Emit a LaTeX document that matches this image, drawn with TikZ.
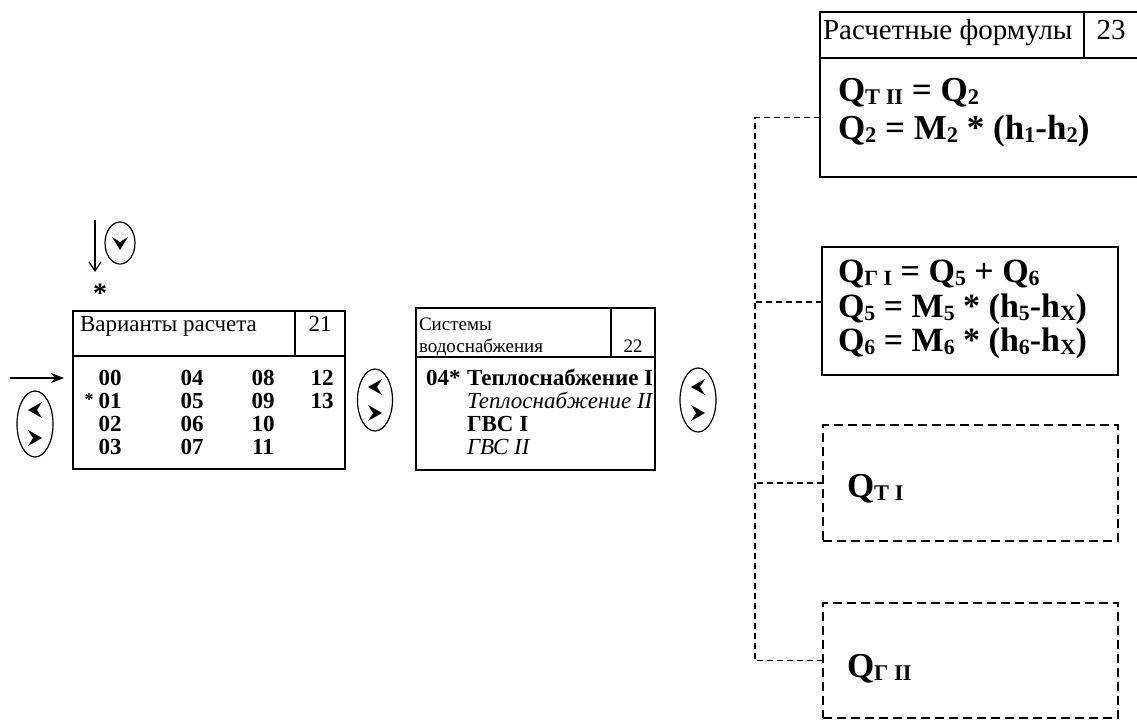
\documentclass[tikz,border=0pt]{standalone}
\usepackage{fontspec}
\setmainfont{Liberation Serif}
\usetikzlibrary{arrows.meta, positioning, shapes.geometric, calc}

\newcommand{\fsz}[2]{\fontsize{#1}{#2}\selectfont}
\newcommand{\sub}[1]{\raisebox{-0.1em}{\scalebox{0.64}{#1}}}
% filled chevrons inside the ovals
\newcommand{\chevL}[1]{\fill (#1) ++(-7,0) -- ++(14,-8) -- ++(-5,8) -- ++(5,8) -- cycle;}
\newcommand{\chevR}[1]{\fill (#1) ++(7,0) -- ++(-14,-8) -- ++(5,8) -- ++(-5,8) -- cycle;}
\newcommand{\chevD}[1]{\fill (#1) ++(0,7) -- ++(-8,-13) -- ++(8,5) -- ++(8,-5) -- cycle;}

\begin{document}
\begin{tikzpicture}[
    x=1pt, y=-1pt,
    every node/.style={inner sep=0pt, outer sep=0pt},
    cell/.style={draw, line width=1.2pt, anchor=north west},
    frame/.style={draw, line width=2.8pt, anchor=north west},
    dframe/.style={draw, line width=2pt, dash pattern=on 9pt off 5pt, anchor=north west},
    oval/.style={ellipse, draw, line width=1.2pt},
    txt/.style={anchor=base west, font=\fsz{23}{23}},
    num/.style={anchor=base, font=\fsz{23}{23}\bfseries},
    fml/.style={anchor=base west, font=\fsz{35}{35}\bfseries},
    arr/.style={line width=1.2pt, -{Stealth[length=13pt, width=10pt, inset=4pt]}},
    link/.style={line width=1.3pt, dash pattern=on 6pt off 4pt},
]
\useasboundingbox (0,0) rectangle (1137,720);
\clip (0,0) rectangle (1137,720);

% Variants of calculation
\node[cell, minimum width=222pt, minimum height=45pt] (hdA) at (73,311) {};
\node[cell, minimum width=50pt, minimum height=45pt] (idA) at (295,311) {};
\node[frame, minimum width=272pt, minimum height=113pt] (bdA) at (73,356) {};
\node[txt] (ttlA) at (80,331) {Варианты расчета};
\node[txt, anchor=base] (nA) at (320,331) {21};

\node[num] (v00) at (110,385) {00};
\node[num] (v01) at (110,408) {01};
\node[num] (v02) at (110,431) {02};
\node[num] (v03) at (110,454) {03};
\node[num] (v04) at (192,385) {04};
\node[num] (v05) at (192,408) {05};
\node[num] (v06) at (192,431) {06};
\node[num] (v07) at (192,454) {07};
\node[num] (v08) at (263,385) {08};
\node[num] (v09) at (263,408) {09};
\node[num] (v10) at (263,431) {10};
\node[num] (v11) at (263,454) {11};
\node[num] (v12) at (322,385) {12};
\node[num] (v13) at (322,408) {13};
\node[num, font=\fsz{18}{18}\bfseries] (selA) at (89,405) {*};

% Water supply systems
\node[cell, minimum width=195pt, minimum height=49pt] (hdB) at (416,308) {};
\node[cell, minimum width=44pt, minimum height=49pt] (idB) at (611,308) {};
\node[frame, minimum width=239pt, minimum height=113pt] (bdB) at (416,357) {};
\node[txt, align=left, font=\fsz{19}{22}] (ttlB) at (419,352) {Системы\\водоснабжения};
\node[txt, anchor=base, font=\fsz{19}{22}] (nB) at (633,352) {22};

\node[txt, font=\fsz{23}{23}\bfseries] (selB) at (426,385) {04*};
\node[txt, font=\fsz{23}{23}\bfseries] (sysA) at (467,385) {Теплоснабжение I};
\node[txt, font=\fsz{23}{23}\itshape] (sysB) at (467,408) {Теплоснабжение II};
\node[txt, font=\fsz{23}{23}\bfseries] (sysC) at (467,431) {ГВС I};
\node[txt, font=\fsz{23}{23}\itshape] (sysD) at (467,454) {ГВС II};

% Calculation formulas
\node[cell, minimum width=264pt, minimum height=46pt] (hdC) at (820,12) {};
\node[cell, minimum width=80pt, minimum height=46pt] (idC) at (1084,12) {};
\node[txt, font=\fsz{29}{29}] (ttlC) at (823,39) {Расчетные формулы};
\node[txt, anchor=base, font=\fsz{29}{29}] (nC) at (1111,39) {23};

\node[frame, minimum width=330pt, minimum height=119pt] (fmA) at (820,58) {};
\node[fml] (eqA1) at (838,101) {Q\sub{Т II} = Q\sub{2}};
\node[fml] (eqA2) at (838,139) {Q\sub{2} = M\sub{2} * (h\sub{1}-h\sub{2})};

\node[frame, minimum width=296pt, minimum height=128pt] (fmB) at (822,247) {};
\node[fml, font=\fsz{34}{34}\bfseries] (eqB1) at (838,282) {Q\sub{Г I} = Q\sub{5} + Q\sub{6}};
\node[fml, font=\fsz{34}{34}\bfseries] (eqB2) at (838,317) {Q\sub{5} = M\sub{5} * (h\sub{5}-h\sub{Х})};
\node[fml, font=\fsz{34}{34}\bfseries] (eqB3) at (838,351) {Q\sub{6} = M\sub{6} * (h\sub{6}-h\sub{Х})};

\node[dframe, minimum width=295pt, minimum height=116pt] (fmC) at (823,425) {};
\node[fml] (eqC) at (847,497) {Q\sub{Т I}};

\node[dframe, minimum width=295pt, minimum height=115pt] (fmD) at (823,603) {};
\node[fml] (eqD) at (847,677) {Q\sub{Г II}};

% Scroll ovals
\node[oval, minimum width=30pt, minimum height=42pt] (ovD) at (120,243) {};
\node[oval, minimum width=36pt, minimum height=66pt] (ovA) at (35,424) {};
\node[oval, minimum width=35pt, minimum height=62pt] (ovB) at (375,400) {};
\node[oval, minimum width=36pt, minimum height=64pt] (ovC) at (698,400) {};
\chevD{ovD.center}
\chevL{$(ovA.center)+(0,-14)$}
\chevR{$(ovA.center)+(0,14)$}
\chevL{$(ovB.center)+(0,-13)$}
\chevR{$(ovB.center)+(0,13)$}
\chevL{$(ovC.center)+(0,-13)$}
\chevR{$(ovC.center)+(0,13)$}

% Entry arrows
\node[font=\fsz{28}{28}\bfseries] (stTop) at (100,293) {*};
\coordinate (inTop) at (95,220);
\coordinate (inTopEnd) at (95,272);
\draw[line width=1.2pt, -{Straight Barb[length=9pt, width=12pt]}] (inTop) -- (inTopEnd);
\coordinate (inLeft) at (10,378);
\draw[arr, shorten >=9pt] (inLeft) -- (bdA.west |- inLeft);

% Dashed tree
\coordinate (trunk) at (755,0);
\draw[link] (fmA.west) -- (fmA.west -| trunk) -- (fmD.west -| trunk) -- (fmD.west);
\draw[link] ([yshift=9pt]fmB.west) -- ([yshift=9pt]fmB.west -| trunk);
\draw[link] (fmC.west) -- (fmC.west -| trunk);

\end{tikzpicture}
\end{document}
